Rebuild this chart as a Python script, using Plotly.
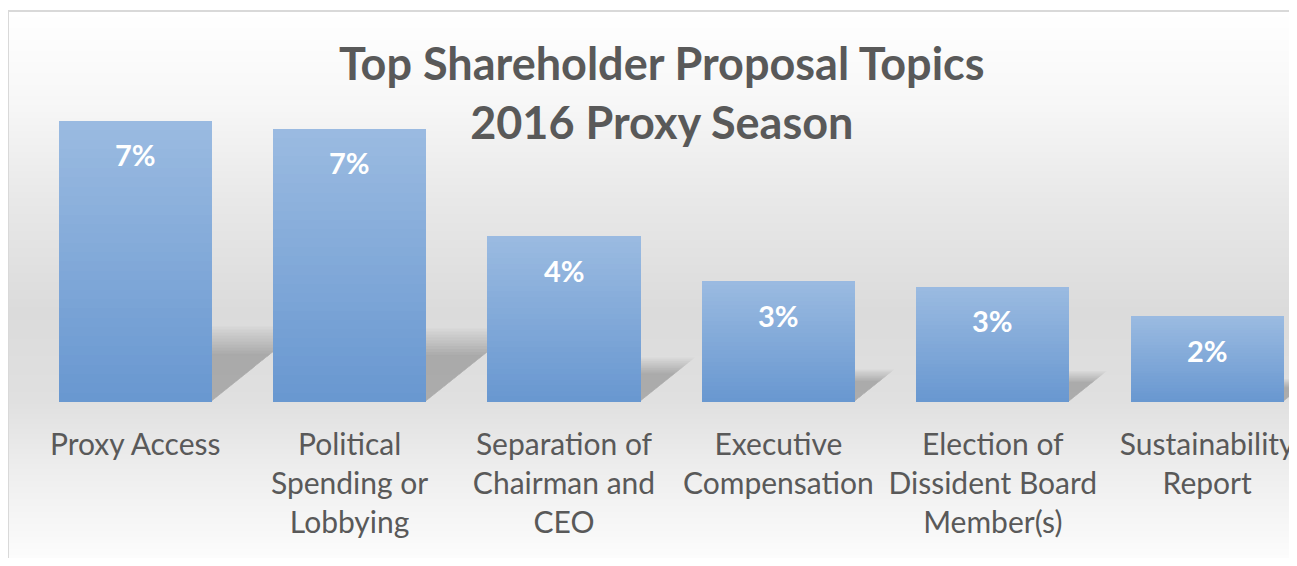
import base64, struct, zlib
import plotly.graph_objects as go

# ---------------- data ----------------
categories = [
    "Proxy Access",
    "Political<br>Spending or<br>Lobbying",
    "Separation of<br>Chairman and<br>CEO",
    "Executive<br>Compensation",
    "Election of<br>Dissident Board<br>Member(s)",
    "Sustainability<br>Report",
]
values = [7.2, 7.0, 4.25, 3.1, 2.95, 2.2]  # percent
title_lines = ["Top Shareholder Proposal Topics", "2016 Proxy Season"]

# ---------------- geometry / style ----------------
OFF = 8  # page body margin
W, H = 1297 - OFF, 566 - 2 * OFF
ML, MR, MT = 28 - OFF, 0, 11 - OFF
BASE = 402 - OFF
MB = H - BASE
PW, PH = W - ML - MR, H - MT - MB
PX_PER_CAT = 214.4
PX_PER_UNIT = 39.03
XMAX = -0.5 + PW / PX_PER_CAT
YMAX = PH / PX_PER_UNIT
BARGAP = 0.286
FONT = "Lato"
TEXT_COLOR = "#595959"


def hex2rgb(h):
    h = h.lstrip("#")
    return tuple(int(h[i:i + 2], 16) for i in (0, 2, 4))


def lerp(c1, c2, t):
    return tuple(round(a + (b - a) * t) for a, b in zip(c1, c2))


def gradient_png(stops, height):
    rows = b""
    for yy in range(height):
        g = stops[-1][1]
        for k in range(len(stops) - 1):
            y0, g0 = stops[k]
            y1, g1 = stops[k + 1]
            if y0 <= yy <= y1:
                t = (yy - y0) / (y1 - y0) if y1 > y0 else 0
                g = round(g0 + (g1 - g0) * t)
                break
        rows += b"\x00" + bytes([g, g, g])

    def chunk(tag, data):
        c = struct.pack(">I", len(data)) + tag + data
        return c + struct.pack(">I", zlib.crc32(tag + data) & 0xFFFFFFFF)

    png = b"\x89PNG\r\n\x1a\n"
    png += chunk(b"IHDR", struct.pack(">IIBBBBB", 1, height, 8, 2, 0, 0, 0))
    png += chunk(b"IDAT", zlib.compress(rows))
    png += chunk(b"IEND", b"")
    return "data:image/png;base64," + base64.b64encode(png).decode()


bg_top = 11 - OFF
bg_h = H - bg_top
bg_stops = [(0, 255), (90, 247), (190, 232), (300, 219), (390, 224), (460, 238), (547, 252)]
bg_src = gradient_png(bg_stops, bg_h)

fig = go.Figure()

N = 30
bottom_c = hex2rgb("#6897d0")
top_c = hex2rgb("#9bbbe1")
xs = list(range(len(categories)))
for k in range(N):
    c = lerp(bottom_c, top_c, (k + 0.5) / N)
    fig.add_trace(go.Bar(
        x=xs, y=[v / N for v in values],
        marker=dict(color="rgb(%d,%d,%d)" % c, line=dict(width=0)),
        hoverinfo="skip", showlegend=False,
    ))


def px2paper_x(px):
    return (px - ML) / PW


def px2paper_y(py):
    return (BASE - py) / PH


shapes = []
bx = px2paper_x(0)
by = px2paper_y(bg_top)
shapes.append(dict(type="line", xref="paper", yref="paper", x0=bx, x1=bx, y0=by, y1=px2paper_y(H + 20),
                   line=dict(color="#d9d9d9", width=2)))
shapes.append(dict(type="line", xref="paper", yref="paper", x0=bx, x1=px2paper_x(W + 20), y0=by, y1=by,
                   line=dict(color="#d9d9d9", width=2)))

# soft shadows behind bars
bw = 1 - BARGAP
L = 10
for i, v in enumerate(values):
    R = i + bw / 2 - 0.005
    top = 0.24 * v
    dx = 0.30 * v * PX_PER_UNIT / PX_PER_CAT
    for j in range(L):
        d = -0.28 + 0.40 * j / (L - 1)
        t = top * (1 + d)
        ddx = dx * (1 + d)
        path = f"M {R},{0} L {R},{t} L {R + ddx},{t} Z"
        shapes.append(dict(type="path", xref="x", yref="y", path=path,
                           fillcolor="rgba(0,0,0,0.022)", line=dict(width=0), layer="below"))

annotations = []
for i, v in enumerate(values):
    annotations.append(dict(
        x=i, y=v, xref="x", yref="y", yshift=-34, showarrow=False,
        text=f"<b>{round(v)}%</b>", font=dict(family=FONT, size=29, color="white"),
        xanchor="center", yanchor="middle",
    ))
annotations.append(dict(
    x=px2paper_x(662 - OFF), y=px2paper_y(92 - OFF), xref="paper", yref="paper", showarrow=False,
    text="<b>" + "<br>".join(title_lines) + "</b>",
    font=dict(family=FONT, size=45, color=TEXT_COLOR),
    xanchor="center", yanchor="middle", align="center",
))

fig.update_layout(
    width=W, height=H,
    margin=dict(l=ML, r=MR, t=MT, b=MB, pad=0),
    barmode="stack", bargap=BARGAP,
    paper_bgcolor="white", plot_bgcolor="rgba(0,0,0,0)",
    showlegend=False,
    shapes=shapes, annotations=annotations,
    images=[dict(source=bg_src, xref="paper", yref="paper",
                 x=px2paper_x(0), y=px2paper_y(bg_top),
                 sizex=(W + 10) / PW, sizey=bg_h / PH,
                 xanchor="left", yanchor="top", sizing="stretch", layer="below")],
    xaxis=dict(range=[-0.5, XMAX], tickmode="array", tickvals=xs, ticktext=categories,
               showgrid=False, zeroline=False, showline=False,
               ticks="outside", ticklen=16, tickcolor="rgba(0,0,0,0)",
               ticklabeloverflow="allow",
               tickfont=dict(family=FONT, size=30, color=TEXT_COLOR), fixedrange=True),
    yaxis=dict(range=[0, YMAX], visible=False, fixedrange=True),
)

fig.write_html("out.html")
